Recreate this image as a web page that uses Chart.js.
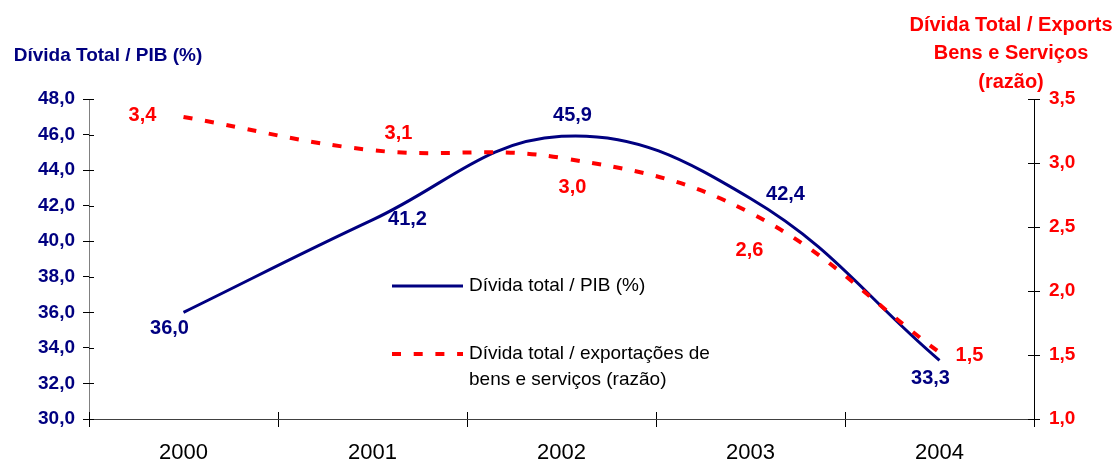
<!DOCTYPE html>
<html>
<head>
<meta charset="utf-8">
<script src="https://cdn.jsdelivr.net/npm/chart.js@4/dist/chart.umd.min.js"></script>
<style>
html,body{margin:0;padding:0;background:#fff;overflow:hidden;}
canvas{display:block;}
</style>
</head>
<body>
<canvas id="c" width="1115" height="464"></canvas>
<script>
// ---- data ----
const categories = ['2000', '2001', '2002', '2003', '2004'];
const debtToGdp = [36.0, 41.2, 45.9, 42.4, 33.3];
const debtToExports = [3.36, 3.10, 3.04, 2.61, 1.52];
const leftAxis = { min: 30, max: 48, step: 2 };
const rightAxis = { min: 1.0, max: 3.5, step: 0.5 };
const seriesNames = ['Dívida total / PIB (%)', ['Dívida total / exportações de', 'bens e serviços (razão)']];
const leftTitle = ['Dívida Total / PIB (%)'];
const rightTitle = ['Dívida Total / Exports', 'Bens e Serviços', '(razão)'];

// ---- styles ----
const FONT = '"Liberation Sans", Arial, sans-serif';
const NAVY = '#000080';
const RED = '#FF0000';
const fmt = v => v.toFixed(1).replace('.', ',');

// label offsets (px) relative to each point, per dataset
const labelOffsets = [
  [[-14, 16], [35, 0], [11, -21], [35, -4], [-9, 18]],
  [[-41, -1], [26, -17], [11, 30], [-1, 38], [30, 3]]
];

const decor = {
  id: 'decor',
  afterDraw(chart) {
    const ctx = chart.ctx;
    const xs = chart.scales.x, ys = chart.scales.y, y2 = chart.scales.y1;
    const area = chart.chartArea;
    ctx.save();
    // inner halves of tick marks
    ctx.lineWidth = 1;
    ctx.strokeStyle = '#000';
    ctx.beginPath();
    ys.ticks.forEach(t => {
      const py = Math.round(ys.getPixelForValue(t.value)) + 0.5;
      ctx.moveTo(area.left, py); ctx.lineTo(area.left + 5, py);
    });
    y2.ticks.forEach(t => {
      const py = Math.round(y2.getPixelForValue(t.value)) + 0.5;
      ctx.moveTo(area.right - 6, py); ctx.lineTo(area.right, py);
    });
    const n = categories.length;
    for (let i = 0; i <= n; i++) {
      let px;
      if (i === 0) px = area.left;
      else if (i === n) px = area.right;
      else px = (xs.getPixelForValue(i - 1) + xs.getPixelForValue(i)) / 2;
      px = Math.round(px) + 0.5;
      ctx.moveTo(px, area.bottom - 7); ctx.lineTo(px, area.bottom);
    }
    ctx.stroke();

    // data labels
    ctx.font = 'bold 20px ' + FONT;
    ctx.textAlign = 'center';
    ctx.textBaseline = 'middle';
    chart.data.datasets.forEach((ds, di) => {
      const meta = chart.getDatasetMeta(di);
      ctx.fillStyle = di === 0 ? NAVY : RED;
      meta.data.forEach((pt, j) => {
        const o = labelOffsets[di][j];
        ctx.fillText(fmt(ds.data[j]), pt.x + o[0], pt.y + o[1]);
      });
    });

    // axis titles
    ctx.fillStyle = NAVY;
    ctx.font = 'bold 19px ' + FONT;
    ctx.fillText(leftTitle[0], 108, 56);
    ctx.fillStyle = RED;
    ctx.font = 'bold 20px ' + FONT;
    rightTitle.forEach((t, i) => ctx.fillText(t, 1011, 25 + i * 28.5));

    // legend
    ctx.lineWidth = 3;
    ctx.strokeStyle = NAVY;
    ctx.setLineDash([]);
    ctx.beginPath(); ctx.moveTo(392, 286); ctx.lineTo(463, 286); ctx.stroke();
    ctx.lineWidth = 4;
    ctx.strokeStyle = RED;
    ctx.setLineDash([9, 12.7]);
    ctx.beginPath(); ctx.moveTo(392, 354); ctx.lineTo(463, 354); ctx.stroke();
    ctx.setLineDash([]);
    ctx.fillStyle = '#000';
    ctx.font = '19px ' + FONT;
    ctx.textAlign = 'left';
    ctx.fillText(seriesNames[0], 469, 286);
    seriesNames[1].forEach((t, i) => ctx.fillText(t, 469, 354 + i * 26));
    ctx.restore();
  }
};

new Chart(document.getElementById('c'), {
  type: 'line',
  data: {
    labels: categories,
    datasets: [
      {
        label: seriesNames[0],
        data: debtToGdp,
        yAxisID: 'y',
        borderColor: NAVY,
        borderWidth: 3,
        pointRadius: 0,
        tension: 0.4,
        fill: false,
        order: 1
      },
      {
        label: seriesNames[1].join(' '),
        data: debtToExports,
        yAxisID: 'y1',
        borderColor: RED,
        borderWidth: 4,
        borderDash: [9, 12.7],
        borderCapStyle: 'butt',
        pointRadius: 0,
        tension: 0.4,
        fill: false,
        order: 0
      }
    ]
  },
  options: {
    responsive: false,
    devicePixelRatio: 1,
    animation: false,
    layout: { padding: { top: 99, left: 0, right: 0, bottom: 0 } },
    plugins: { legend: { display: false }, tooltip: { enabled: false } },
    scales: {
      x: {
        type: 'category',
        offset: true,
        grid: { offset: true, drawOnChartArea: false, drawTicks: true, tickLength: 8, color: '#000' },
        border: { color: '#404040', width: 1 },
        ticks: { color: '#000', font: { family: FONT, size: 22 }, padding: 13, maxRotation: 0 },
        afterFit(s) { s.height = 45; }
      },
      y: {
        position: 'left',
        min: leftAxis.min, max: leftAxis.max,
        grid: { drawOnChartArea: false, drawTicks: true, tickLength: 6, color: '#000' },
        border: { color: '#808080', width: 1 },
        ticks: { stepSize: leftAxis.step, color: NAVY, font: { family: FONT, size: 19, weight: 'bold' }, padding: 8, callback: v => fmt(v) },
        afterFit(s) { s.width = 89; }
      },
      y1: {
        position: 'right',
        min: rightAxis.min, max: rightAxis.max,
        grid: { drawOnChartArea: false, drawTicks: true, tickLength: 6, color: '#000' },
        border: { color: '#000', width: 1 },
        ticks: { stepSize: rightAxis.step, color: RED, font: { family: FONT, size: 19, weight: 'bold' }, padding: 9, callback: v => fmt(v) },
        afterFit(s) { s.width = 81; }
      }
    }
  },
  plugins: [decor]
});
</script>
</body>
</html>
